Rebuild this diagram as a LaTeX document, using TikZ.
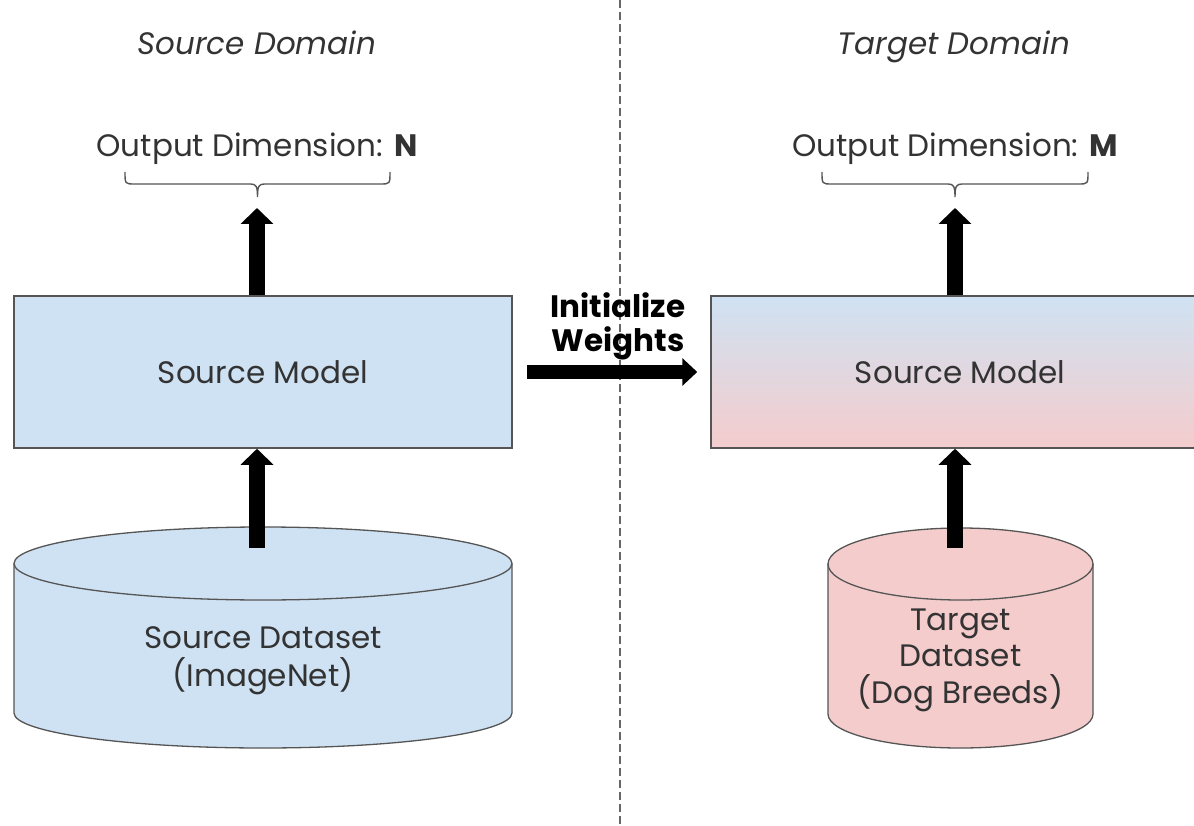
\documentclass[tikz,border=0pt]{standalone}
\usepackage{fontspec}
\setmainfont{Poppins}
\usetikzlibrary{arrows.meta,calc}
\definecolor{txt}{HTML}{333333}
\definecolor{edge}{HTML}{555555}
\definecolor{srcblue}{HTML}{CFE2F3}
\definecolor{tgtpink}{HTML}{F4CCCC}
\tikzset{
  lbl/.style={text=txt, font=\fontsize{31}{37}\selectfont, align=center, inner sep=0pt, anchor=base},
  boldlbl/.style={text=black, font=\bfseries\fontsize{31}{35}\selectfont, align=center, inner sep=0pt, anchor=base},
  modelbox/.style={draw=edge, line width=1.5pt, minimum width=498pt, minimum height=152pt,
    inner sep=0pt, text=txt, font=\fontsize{31}{36}\selectfont},
  cylfill/.style={draw=edge, line width=1.3pt},
  bracepen/.style={draw=edge, line width=1.4pt},
  uparrow/.style={line width=16pt, -{Triangle[width=32pt,length=16pt]}},
  sidearrow/.style={line width=14pt, -{Triangle[width=27pt,length=15pt]}},
  divider/.style={draw=black!60, line width=1.3pt, dash pattern=on 8pt off 4pt},
  % under-brace of half-width #1, opening upwards, tip pointing down
  dimbrace/.pic={
    \draw[bracepen] (-#1,0) .. controls (-#1,-12) .. (-#1+10,-12)
      -- (-7,-12) .. controls (-1.5,-12) and (0,-14) .. (0,-25)
      .. controls (0,-14) and (1.5,-12) .. (7,-12)
      -- (#1-10,-12) .. controls (#1,-12) .. (#1,0);
  },
}
\begin{document}
\begin{tikzpicture}[x=1pt,y=1pt]
\useasboundingbox (0,0) rectangle (1194,-826);
\clip (0,0) rectangle (1194,-826);
\fill[white] (0,0) rectangle (1194,-826);

% domain divider
\draw[divider] (620,0) -- (620,-826);

% headings
\node[lbl] (srcdom) at (257,-55) {\itshape Source Domain};
\node[lbl] (tgtdom) at (954,-55) {\itshape Target Domain};

% output dimension labels and braces
\node[lbl] (srcout) at (257,-157) {Output Dimension: \textbf{N}};
\node[lbl] (tgtout) at (955,-157) {Output Dimension: \textbf{M}};
\pic at (257.5,-172) {dimbrace=132.5};
\pic at (955,-172) {dimbrace=133};

% models
\node[modelbox, fill=srcblue] (srcmodel) at (263,-372) {Source Model};
\node[modelbox, top color=srcblue, bottom color=tgtpink] (tgtmodel) at (960,-372) {Source Model};

% source dataset cylinder
\path[cylfill, fill=srcblue]
  (14,-563.5) -- (14,-713)
  arc[start angle=180, end angle=360, x radius=249, y radius=35]
  -- (512,-563.5)
  arc[start angle=0, end angle=180, x radius=249, y radius=36.5] -- cycle;
\draw[cylfill] (14,-563.5) arc[start angle=180, end angle=360, x radius=249, y radius=36.5];
\node[lbl, font=\fontsize{31}{38}\selectfont] (srcdb) at (263,-686) {Source Dataset\\(ImageNet)};

% target dataset cylinder
\path[cylfill, fill=tgtpink]
  (828,-564) -- (828,-714)
  arc[start angle=180, end angle=360, x radius=132.5, y radius=34]
  -- (1093,-564)
  arc[start angle=0, end angle=180, x radius=132.5, y radius=36] -- cycle;
\draw[cylfill] (828,-564) arc[start angle=180, end angle=360, x radius=132.5, y radius=36];
\node[lbl, font=\fontsize{31}{36.5}\selectfont] (tgtdb) at (960.5,-703) {Target\\Dataset\\(Dog Breeds)};

% flow arrows
\coordinate (srctop) at (257,-208);
\coordinate (srcfeed) at (257,-548);
\coordinate (tgttop) at (955,-208);
\coordinate (tgtfeed) at (955,-548);
\draw[uparrow] (srcmodel.north -| srctop) -- (srctop);
\draw[uparrow] (srcfeed) -- (srcfeed |- srcmodel.south);
\draw[uparrow] (tgtmodel.north -| tgttop) -- (tgttop);
\draw[uparrow] (tgtfeed) -- (tgtfeed |- tgtmodel.south);

% weight transfer
\node[boldlbl] (init) at (618,-352) {Initialize\\Weights};
\draw[sidearrow] ([xshift=14pt]srcmodel.east) -- ([xshift=-13pt]tgtmodel.west);
\end{tikzpicture}
\end{document}
